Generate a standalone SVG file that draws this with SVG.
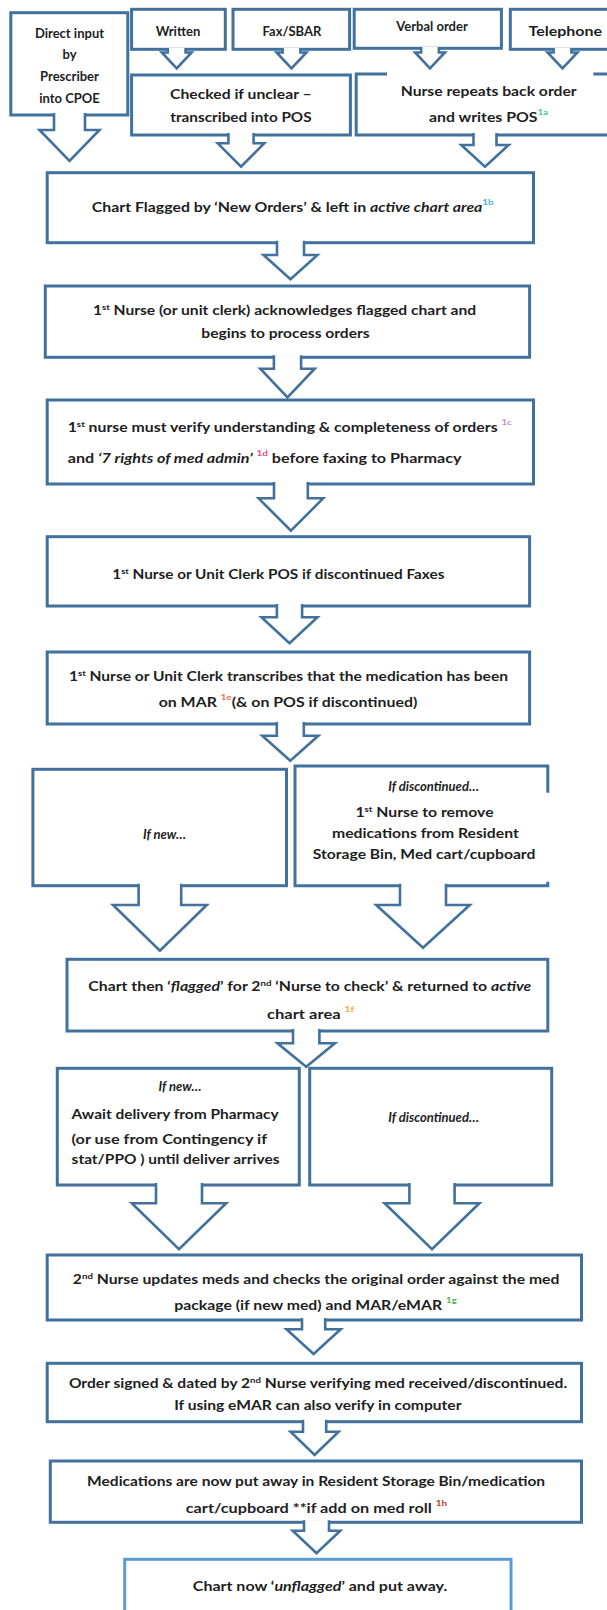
<svg xmlns="http://www.w3.org/2000/svg" width="607" height="1610" viewBox="0 0 607 1610">
<style>
.b{fill:#fff;stroke:#41719C;stroke-width:3}
.bl{fill:none;stroke:#41719C;stroke-width:3}
.bf{fill:#fff;stroke:#5B9BD5;stroke-width:3}
.a{fill:#fff;stroke:#41719C;stroke-width:2.6;stroke-linejoin:miter}
text{font-family:Lato,"Liberation Sans",sans-serif;font-weight:bold;font-size:13px;fill:#1e1e1e}
.m{text-anchor:middle}
.i{font-style:italic}
.s{font-size:8px}
</style>
<rect width="607" height="1610" fill="#fff"/>
<g id="n-direct"><rect class="b" x="10.8" y="12.7" width="117" height="102.3"/>
<text class="m" x="69.5" y="37.5">Direct input</text><text class="m" x="69.5" y="59">by</text><text class="m" x="69.5" y="81">Prescriber</text><text class="m" x="69.5" y="102.5">into CPOE</text></g>
<g id="n-written"><rect class="b" x="131.6" y="9.3" width="93.7" height="40"/><text class="m" x="178" y="36">Written</text></g>
<g id="n-fax"><rect class="b" x="233" y="9.3" width="116.6" height="40"/><text class="m" x="292" y="36">Fax/SBAR</text></g>
<g id="n-verbal"><rect class="b" x="354.2" y="9.3" width="147.2" height="39"/><text class="m" x="432" y="31">Verbal order</text></g>
<g id="n-tel"><rect class="b" x="510.3" y="9.3" width="110" height="40"/><text x="528.5" y="36" textLength="73.5" lengthAdjust="spacingAndGlyphs">Telephone</text></g>
<g id="n-checked"><rect class="b" x="131.6" y="75" width="218.8" height="60"/>
<text x="170" y="99" textLength="141.6" lengthAdjust="spacingAndGlyphs">Checked if unclear –</text>
<text x="170.3" y="122.3" textLength="141.3" lengthAdjust="spacingAndGlyphs">transcribed into POS</text></g>
<g id="n-repeat"><rect x="356.2" y="74" width="260" height="61" fill="#fff"/><path class="bl" d="M387,74 H356.2 V135 H620 M593.3,74 H620"/>
<text x="400.7" y="96" textLength="176" lengthAdjust="spacingAndGlyphs">Nurse repeats back order</text>
<text x="429" y="122.3" textLength="119" lengthAdjust="spacingAndGlyphs">and writes POS<tspan class="s" dy="-7" fill="#4EC38E">1a</tspan></text></g>
<g id="n-flag"><rect class="b" x="47.2" y="172.7" width="486.3" height="70"/>
<text x="91.8" y="212.3" textLength="401.8" lengthAdjust="spacingAndGlyphs">Chart Flagged by ‘New Orders’ &amp; left in <tspan class="i">active chart area</tspan><tspan class="s" dy="-7" fill="#4BACC6">1b</tspan></text></g>
<g id="n-ack"><rect class="b" x="45.3" y="286" width="484.3" height="71.3"/>
<text x="92.9" y="314.7" textLength="383.3" lengthAdjust="spacingAndGlyphs">1<tspan class="s" dy="-5">st</tspan><tspan dy="5"> Nurse (or unit clerk) acknowledges flagged chart and</tspan></text>
<text x="201.3" y="338" textLength="168.4" lengthAdjust="spacingAndGlyphs">begins to process orders</text></g>
<g id="n-verify"><rect class="b" x="47.2" y="400" width="486.3" height="84"/>
<text x="67.7" y="432.3" textLength="444.1" lengthAdjust="spacingAndGlyphs">1<tspan class="s" dy="-5">st</tspan><tspan dy="5"> nurse must verify understanding &amp; completeness of orders </tspan><tspan class="s" dy="-7" fill="#B88FD0">1c</tspan></text>
<text x="67.7" y="463.3" textLength="393.8" lengthAdjust="spacingAndGlyphs">and  <tspan class="i">‘7 rights of med admin’</tspan> <tspan class="s" dy="-7" fill="#E8467C">1d</tspan><tspan dy="7"> before faxing to Pharmacy</tspan></text></g>
<g id="n-faxes"><rect class="b" x="47.2" y="536.7" width="482.4" height="69.3"/>
<text x="112.3" y="579" textLength="332.1" lengthAdjust="spacingAndGlyphs">1<tspan class="s" dy="-5">st</tspan><tspan dy="5"> Nurse or Unit Clerk POS if discontinued Faxes</tspan></text></g>
<g id="n-mar"><rect class="b" x="47.2" y="652" width="482.4" height="72"/>
<text x="68.9" y="681.3" textLength="439.1" lengthAdjust="spacingAndGlyphs">1<tspan class="s" dy="-5">st</tspan><tspan dy="5"> Nurse or Unit Clerk transcribes that the medication has been</tspan></text>
<text x="158.7" y="707.3" textLength="258.6" lengthAdjust="spacingAndGlyphs">on MAR <tspan class="s" dy="-7" fill="#F26B4A">1e</tspan><tspan dy="7">(&amp; on POS if discontinued)</tspan></text></g>
<g id="n-ifnew1"><rect class="b" x="32.9" y="769.3" width="253.6" height="116.4"/>
<text class="m i" x="164.5" y="839">If new…</text></g>
<g id="n-ifdisc1"><rect x="295" y="766" width="252.8" height="119.7" fill="#fff"/><path class="bl" d="M547.8,792.7 V766 H295 V885.7 H547.8 V881.7"/>
<text class="m i" x="433.6" y="791.3">If discontinued…</text>
<text x="355.4" y="816.7" textLength="138.2" lengthAdjust="spacingAndGlyphs">1<tspan class="s" dy="-5">st</tspan><tspan dy="5"> Nurse to remove</tspan></text>
<text x="332" y="838" textLength="186.8" lengthAdjust="spacingAndGlyphs">medications from Resident</text>
<text x="312.8" y="859" textLength="222.6" lengthAdjust="spacingAndGlyphs">Storage Bin, Med cart/cupboard</text></g>
<g id="n-chartthen"><rect class="b" x="67" y="959.3" width="480.8" height="71.7"/>
<text x="88.3" y="990.7" textLength="442.9" lengthAdjust="spacingAndGlyphs">Chart then ‘<tspan class="i">flagged</tspan>’ for 2<tspan class="s" dy="-5">nd</tspan><tspan dy="5"> ‘Nurse to check’ &amp; returned to </tspan><tspan class="i">active</tspan></text>
<text x="267" y="1019" textLength="87.2" lengthAdjust="spacingAndGlyphs">chart area <tspan class="s" dy="-7" fill="#F5A742">1f</tspan></text></g>
<g id="n-await"><rect class="b" x="57.3" y="1068.3" width="242" height="116.7"/>
<text class="m i" x="180" y="1090.7">If new…</text>
<text x="71.6" y="1119" textLength="207.1" lengthAdjust="spacingAndGlyphs">Await delivery from Pharmacy</text>
<text x="71.6" y="1144" textLength="195.4" lengthAdjust="spacingAndGlyphs">(or use from Contingency if</text>
<text x="71.6" y="1164" textLength="207.9" lengthAdjust="spacingAndGlyphs">stat/PPO ) until deliver arrives</text></g>
<g id="n-ifdisc2"><rect class="b" x="309.7" y="1068.3" width="242" height="116.7"/>
<text class="m i" x="433.6" y="1122.3">If discontinued…</text></g>
<g id="n-update"><rect class="b" x="47.2" y="1255" width="534.3" height="65"/>
<text x="72.8" y="1284" textLength="486.6" lengthAdjust="spacingAndGlyphs">2<tspan class="s" dy="-5">nd</tspan><tspan dy="5"> Nurse updates meds and checks the original order against the med</tspan></text>
<text x="174.2" y="1310" textLength="282.6" lengthAdjust="spacingAndGlyphs">package (if new med) and MAR/eMAR <tspan class="s" dy="-7" fill="#4CAF50">1g</tspan></text></g>
<g id="n-signed"><rect class="b" x="47.2" y="1363.3" width="534.3" height="58.4"/>
<text x="68.9" y="1388.3" textLength="498.3" lengthAdjust="spacingAndGlyphs">Order signed &amp; dated by 2<tspan class="s" dy="-5">nd</tspan><tspan dy="5"> Nurse verifying med received/discontinued.</tspan></text>
<text x="174.2" y="1410" textLength="287.3" lengthAdjust="spacingAndGlyphs">If using eMAR can also verify in computer</text></g>
<g id="n-putaway"><rect class="b" x="50.3" y="1461" width="531.2" height="61.3"/>
<text x="87.1" y="1485.7" textLength="458" lengthAdjust="spacingAndGlyphs">Medications are now put away in Resident Storage Bin/medication</text>
<text x="185.8" y="1513.3" textLength="261.4" lengthAdjust="spacingAndGlyphs">cart/cupboard  **if add on med roll <tspan class="s" dy="-7" fill="#C0392B">1h</tspan></text></g>
<g id="n-final"><rect class="bf" x="124.7" y="1559.3" width="386.3" height="65"/>
<text x="192.8" y="1590.7" textLength="254.4" lengthAdjust="spacingAndGlyphs">Chart now ‘<tspan class="i">unflagged</tspan>’ and put away.</text></g>
<g id="connectors">
<path class="a" d="M54,113 V130 H39.5 L69.5,161 L99.5,130 H85 V113"/>
<path class="a" d="M167.8,48 V52.5 H161.8 L176.7,68.3 L191.6,52.5 H185.6 V48"/>
<path class="a" d="M282.6,48 V52.5 H276.6 L291.5,68.3 L306.4,52.5 H300.4 V48"/>
<path class="a" d="M421.1,47 V52.5 H415.1 L430,68.3 L444.9,52.5 H438.9 V47"/>
<path class="a" d="M553.6,48 V52.5 H547.6 L562.5,68.3 L577.4,52.5 H571.4 V48"/>
<path class="a" d="M228.4,133 V143.3 H217.8 L241,166.7 L264.2,143.3 H253.6 V133"/>
<path class="a" d="M473.5,133 V145 H461.3 L485,166.7 L508.7,145 H496.5 V133"/>
<path class="a" d="M277,240.7 V255 H263.5 L290.5,279.3 L317.5,255 H304 V240.7"/>
<path class="a" d="M273.9,355.3 V368.7 H260.3 L287.5,397.3 L314.7,368.7 H301.1 V355.3"/>
<path class="a" d="M274,482 V498.3 H258.6 L290.9,530.7 L323.2,498.3 H307.8 V482"/>
<path class="a" d="M276.9,604 V617.3 H261.5 L289.5,643.3 L317.5,617.3 H302.1 V604"/>
<path class="a" d="M276.8,722 V735.7 H262.3 L290.3,760.7 L318.3,735.7 H303.8 V722"/>
<path class="a" d="M138.6,883.7 V905 H113 L159.9,950.7 L206.8,905 H181.2 V883.7"/>
<path class="a" d="M400,883.7 V905 H376.2 L423,947.7 L469.8,905 H446 V883.7"/>
<path class="a" d="M293,1029 V1043.3 H277.5 L306.2,1066.7 L334.9,1043.3 H319.4 V1029"/>
<path class="a" d="M156,1183 V1203.3 H131.8 L179,1249.3 L226.2,1203.3 H202 V1183"/>
<path class="a" d="M409.4,1183 V1203.3 H384.6 L432,1249.3 L479.4,1203.3 H454.6 V1183"/>
<path class="a" d="M302,1318 V1329.3 H286.5 L313.6,1354 L340.7,1329.3 H325.2 V1318"/>
<path class="a" d="M303,1419.7 V1431.7 H290.6 L314.6,1455 L338.6,1431.7 H326.2 V1419.7"/>
<path class="a" d="M304,1520.3 V1530.7 H292.7 L316.5,1553.3 L340.3,1530.7 H329 V1520.3"/>
</g>
</svg>
